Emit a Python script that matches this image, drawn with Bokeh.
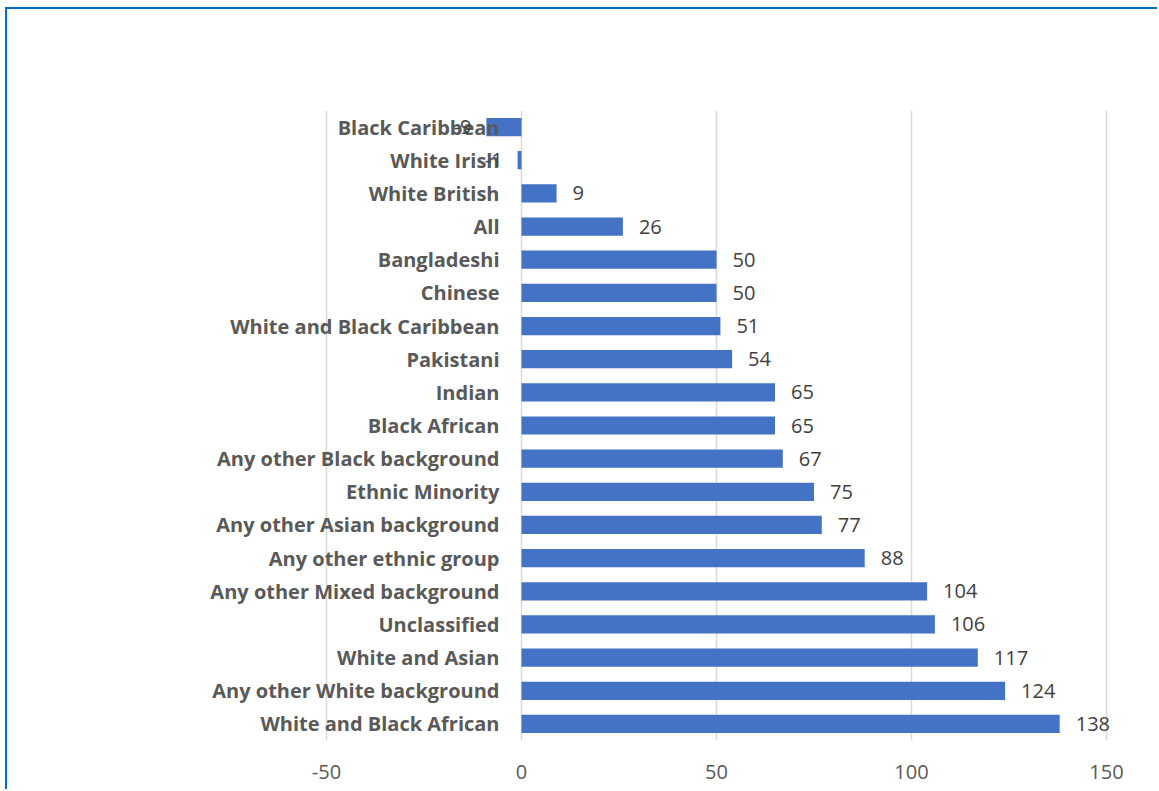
from bokeh.plotting import figure
from bokeh.models import ColumnDataSource, FactorRange, FixedTicker, Span
from bokeh.core.properties import value
from bokeh.embed import file_html
from bokeh.resources import INLINE

categories = ["Black Caribbean", "White Irish", "White British", "All", "Bangladeshi",
              "Chinese", "White and Black Caribbean", "Pakistani", "Indian", "Black African",
              "Any other Black background", "Ethnic Minority", "Any other Asian background",
              "Any other ethnic group", "Any other Mixed background", "Unclassified",
              "White and Asian", "Any other White background", "White and Black African"]
values = [-9, -1, 9, 26, 50, 50, 51, 54, 65, 65, 67, 75, 77, 88, 104, 106, 117, 124, 138]
x_ticks = [-50, 0, 50, 100, 150]

FONT = "Open Sans"
W, H = 1152, 782
PX = 3.9  # pixels per unit
X_START = -50 - (326 - 100) / PX   # extra room on the left for category labels
X_END = 150 + (1152 - 1106) / PX   # extra room on the right for value labels

p = figure(width=W, height=H, y_range=FactorRange(*reversed(categories)),
           x_range=(X_START, X_END), output_backend="svg", toolbar_location=None,
           min_border_left=93, min_border_right=7, min_border_top=101, min_border_bottom=51)
p.styles = {"margin-left": "5px", "margin-top": "7px",
            "border-left": "2px solid #0070C0", "border-top": "2px solid #0070C0"}
p.outline_line_color = None
p.background_fill_color = "white"
p.border_fill_color = "white"

for t in x_ticks:
    p.add_layout(Span(location=t, dimension="height", line_color="#d9d9d9",
                      line_width=1.5, level="underlay"))

src = ColumnDataSource(dict(cat=categories, val=values))

p.hbar(y="cat", right="val", left=0, height=0.55, source=src,
       fill_color="#4472C4", line_color=None)

# category labels next to the zero line
p.text(x=0, y="cat", text="cat", source=src, x_offset=-22, text_align="right",
       text_baseline="middle", text_font=value(FONT), text_font_style="bold",
       text_font_size="20px", text_color="#595959")

pos_idx = [i for i, v in enumerate(values) if v >= 0]
neg_idx = [i for i, v in enumerate(values) if v < 0]
psrc = ColumnDataSource(dict(cat=[categories[i] for i in pos_idx], val=[values[i] for i in pos_idx],
                             lbl=[str(values[i]) for i in pos_idx]))
nsrc = ColumnDataSource(dict(cat=[categories[i] for i in neg_idx], val=[values[i] for i in neg_idx],
                             lbl=[str(values[i]) for i in neg_idx]))
p.text(x="val", y="cat", text="lbl", source=psrc, x_offset=16, text_align="left",
       text_baseline="middle", text_font=value(FONT), text_font_size="20px", text_color="#404040")
p.text(x="val", y="cat", text="lbl", source=nsrc, x_offset=-15, text_align="right",
       text_baseline="middle", text_font=value(FONT), text_font_size="20px", text_color="#404040")

p.yaxis.visible = False
p.ygrid.grid_line_color = None
p.xgrid.grid_line_color = None
p.xaxis.ticker = FixedTicker(ticks=x_ticks)
p.xaxis.major_label_overrides = {t: str(t) for t in x_ticks}
p.xaxis.axis_line_color = None
p.xaxis.major_tick_line_color = None
p.xaxis.minor_tick_line_color = None
p.xaxis.major_label_standoff = 18
p.xaxis.major_label_text_font = FONT
p.xaxis.major_label_text_font_size = "20px"
p.xaxis.major_label_text_color = "#595959"

open("out.html", "w").write(file_html(p, INLINE))
